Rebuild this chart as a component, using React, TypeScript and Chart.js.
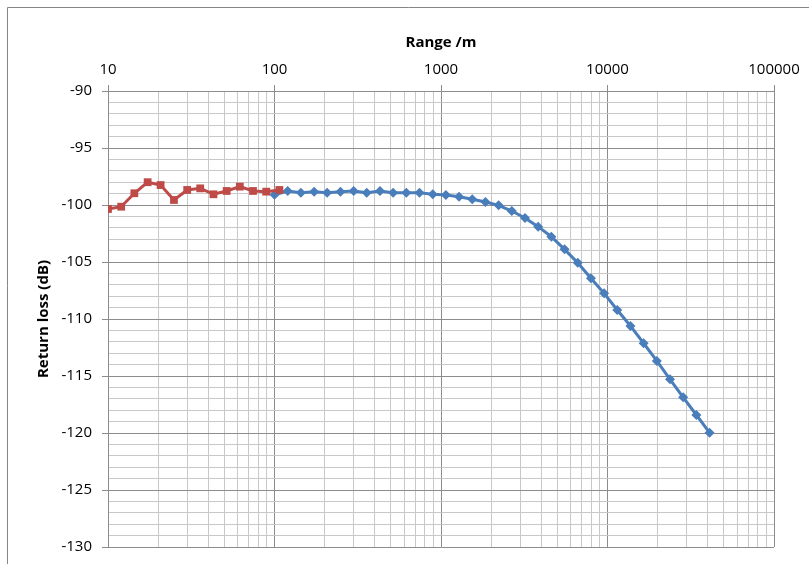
import React, { useEffect, useRef } from 'react';
import { Chart, registerables } from 'chart.js';

Chart.register(...registerables);

// Short-range measurement (red squares)
const shortRangeX = [10, 12, 14.4, 17.3, 20.7, 24.9, 29.9, 35.8, 43, 51.6, 61.9, 74.3, 89.2, 107];
const shortRangeY = [-100.35, -100.15, -98.97, -98.0, -98.25, -99.56, -98.68, -98.54, -99.06, -98.77, -98.39, -98.77, -98.83, -98.68];

// Long-range measurement (blue diamonds)
const longRangeX = [100, 120, 144, 173, 207, 249, 299, 358, 430, 516, 619, 743, 892, 1070, 1284, 1541, 1849, 2219, 2662, 3195, 3834, 4601, 5521, 6625, 7950, 9540, 11448, 13737, 16484, 19781, 23738, 28485, 34182, 41018];
const longRangeY = [-99.1, -98.77, -98.92, -98.83, -98.92, -98.83, -98.77, -98.92, -98.77, -98.92, -98.92, -98.92, -99.06, -99.12, -99.27, -99.5, -99.74, -100.03, -100.53, -101.14, -101.9, -102.78, -103.89, -105.06, -106.43, -107.75, -109.21, -110.61, -112.13, -113.68, -115.29, -116.87, -118.42, -119.97];

// Axis ranges / titles
const xDecades = [10, 100, 1000, 10000];
const xMin = 10;
const xMax = 100000;
const yMin = -130;
const yMax = -90;
const yLabelStep = 5;
const xTitle = 'Range /m';
const yTitle = 'Return loss (dB)';

const FONT = "'Open Sans', sans-serif";
const MAJOR = '#8c8c8c';
const MINOR = '#c8c8c8';

const isPow10 = (v: number) => Math.abs(Math.log10(v) - Math.round(Math.log10(v))) < 1e-9;

const framePlugin = {
  id: 'frame',
  beforeDraw(chart: any) {
    const c = chart.ctx;
    c.save();
    c.fillStyle = '#ffffff';
    c.fillRect(0, 0, chart.width, chart.height);
    c.strokeStyle = '#868686';
    c.lineWidth = 1;
    c.beginPath();
    c.moveTo(7.5, chart.height);
    c.lineTo(7.5, 7.5);
    c.lineTo(chart.width, 7.5);
    c.stroke();
    c.restore();
  },
};

export default function App() {
  const ref = useRef<HTMLCanvasElement | null>(null);

  useEffect(() => {
    if (!ref.current) return;
    const chart = new Chart(ref.current, {
      type: 'scatter',
      data: {
        datasets: [
          {
            label: 'Short range',
            data: shortRangeX.map((x, i) => ({ x, y: shortRangeY[i] })),
            showLine: true,
            borderColor: '#BE4B48',
            backgroundColor: '#BE4B48',
            borderWidth: 3,
            pointStyle: 'rect',
            pointRadius: 5.5,
            pointBorderWidth: 0,
            tension: 0,
          },
          {
            label: 'Long range',
            data: longRangeX.map((x, i) => ({ x, y: longRangeY[i] })),
            showLine: true,
            borderColor: '#4A7EBB',
            backgroundColor: '#4A7EBB',
            borderWidth: 3,
            pointStyle: 'rectRot',
            pointRadius: 5,
            pointBorderWidth: 0,
            tension: 0,
          },
        ],
      },
      options: {
        animation: false,
        responsive: true,
        maintainAspectRatio: false,
        layout: { padding: { left: 8, top: 8, right: 35, bottom: 17 } },
        plugins: { legend: { display: false }, tooltip: { enabled: false } },
        scales: {
          x: {
            type: 'logarithmic',
            position: 'top',
            min: xMin,
            max: xMax,
            afterBuildTicks: (scale: any) => {
              const t: any[] = [];
              xDecades.forEach((d) => {
                for (let m = 1; m <= 9; m++) t.push({ value: m * d });
              });
              t.push({ value: xMax });
              scale.ticks = t;
            },
            afterFit: (scale: any) => {
              scale.height = 83;
              scale.paddingLeft = 0;
              scale.paddingRight = 0;
            },
            ticks: {
              autoSkip: false,
              maxRotation: 0,
              minRotation: 0,
              padding: 6,
              color: '#000',
              font: { family: FONT, size: 15 },
              callback: (v: any) => (isPow10(Number(v)) ? String(v) : ''),
            },
            grid: {
              color: (ctx: any) => (ctx.tick && isPow10(ctx.tick.value) ? MAJOR : MINOR),
              tickColor: (ctx: any) => (ctx.tick && isPow10(ctx.tick.value) ? MAJOR : 'rgba(0,0,0,0)'),
              tickLength: 6,
              lineWidth: 1,
            },
            border: { display: true, color: MAJOR },
            title: {
              display: true,
              text: xTitle,
              color: '#000',
              font: { family: FONT, size: 15, weight: 'bold' },
              padding: { top: 26, bottom: 0 },
            },
          },
          y: {
            type: 'linear',
            min: yMin,
            max: yMax,
            afterFit: (scale: any) => {
              scale.width = 100;
              scale.paddingTop = 0;
              scale.paddingBottom = 0;
            },
            ticks: {
              stepSize: 1,
              autoSkip: false,
              padding: 10,
              color: '#000',
              font: { family: FONT, size: 15 },
              callback: (v: any) => (Number(v) % yLabelStep === 0 ? String(v) : ''),
            },
            grid: {
              color: (ctx: any) => (ctx.tick && ctx.tick.value % yLabelStep === 0 ? MAJOR : MINOR),
              tickColor: (ctx: any) => (ctx.tick && ctx.tick.value % yLabelStep === 0 ? MAJOR : 'rgba(0,0,0,0)'),
              tickLength: 6,
              lineWidth: 1,
            },
            border: { display: true, color: MAJOR },
            title: {
              display: true,
              text: yTitle,
              color: '#000',
              font: { family: FONT, size: 15, weight: 'bold' },
              padding: { top: 27, bottom: 0 },
            },
          },
        },
      },
      plugins: [framePlugin],
    } as any);
    return () => chart.destroy();
  }, []);

  return (
    <div style={{ position: 'fixed', left: 0, top: 0, width: 809, height: 564 }}>
      <canvas ref={ref} />
    </div>
  );
}
